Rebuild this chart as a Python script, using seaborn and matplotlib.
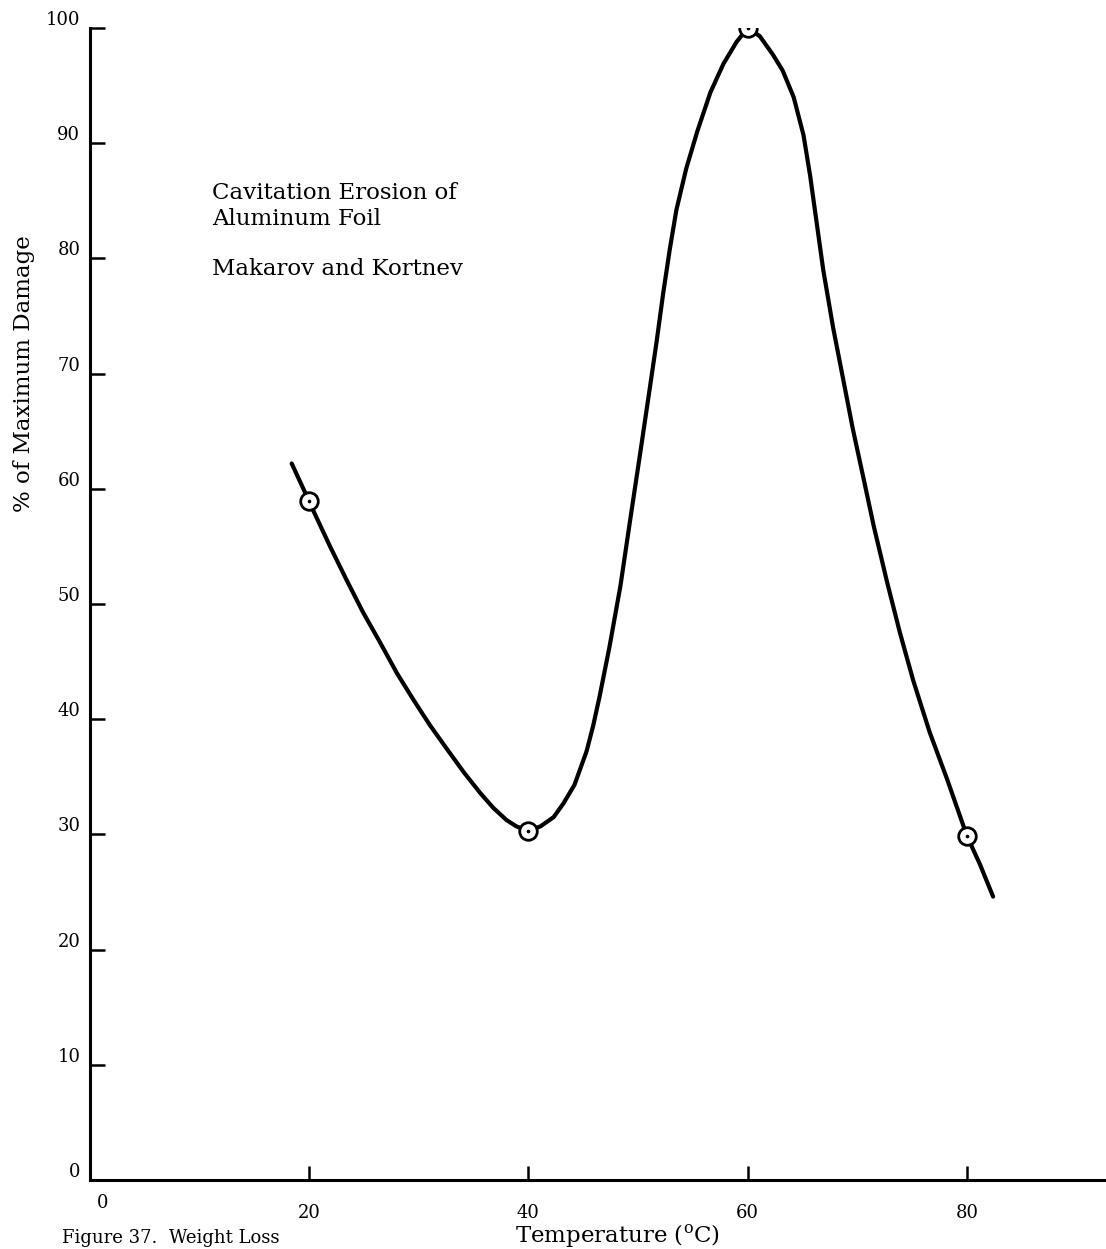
import matplotlib
matplotlib.use("Agg")
import matplotlib.pyplot as plt
import matplotlib.transforms as mtransforms
import seaborn as sns
import pandas as pd

# curve
curve_temp = [18.4, 20.0, 20.4, 21.9, 23.4, 24.9, 26.5, 28.0, 29.5, 31.0, 32.5,
              34.1, 35.6, 36.8, 38.0, 38.9, 40.0, 41.1, 42.3, 43.2, 44.2, 45.3,
              45.9, 46.5, 47.4, 48.4, 49.3, 50.2, 51.1, 51.7, 52.3, 52.9, 53.5,
              54.4, 55.4, 56.6, 57.8, 59.0, 60.0, 61.1, 62.3, 63.2, 64.2, 65.1,
              65.7, 66.3, 66.9, 67.8, 68.7, 69.6, 70.6, 71.5, 72.7, 73.9, 75.1,
              76.6, 78.2, 80.0, 81.2, 82.4]
curve_damage = [62.2, 58.9, 58.05, 55.0, 52.1, 49.3, 46.6, 44.0, 41.7, 39.5, 37.5,
                35.4, 33.6, 32.3, 31.25, 30.7, 30.3, 30.7, 31.5, 32.7, 34.3, 37.2,
                39.4, 42.0, 46.3, 51.6, 57.4, 63.1, 68.9, 72.8, 77.0, 80.8, 84.2,
                87.8, 91.0, 94.4, 96.9, 98.8, 100.0, 99.3, 97.7, 96.3, 94.0, 90.7,
                87.2, 83.1, 79.0, 74.0, 69.6, 65.2, 60.8, 56.8, 52.0, 47.5, 43.4,
                38.9, 34.8, 29.9, 27.4, 24.6]

# measured points
point_temp = [20, 40, 60, 80]
point_damage = [58.9, 30.3, 100.0, 29.9]

x_ticks = [0, 20, 40, 60, 80]
y_ticks = [0, 10, 20, 30, 40, 50, 60, 70, 80, 90, 100]

curve = pd.DataFrame({"temp": curve_temp, "damage": curve_damage})
points = pd.DataFrame({"temp": point_temp, "damage": point_damage})

sns.set_style("ticks", rc={
    "axes.edgecolor": "black",
    "axes.labelcolor": "black",
    "text.color": "black",
    "xtick.color": "black",
    "ytick.color": "black",
})
plt.rcParams["font.family"] = ["DejaVu Serif"]
plt.rcParams["mathtext.fontset"] = "dejavuserif"

fig = plt.figure(figsize=(11.06, 12.49), dpi=100)
ax = fig.add_axes([0.0814, 0.0552, 0.9186, 0.9224])

sns.lineplot(data=curve, x="temp", y="damage", sort=False, color="black",
             linewidth=3, ax=ax)
sns.scatterplot(data=points, x="temp", y="damage", s=160, facecolor="white",
                edgecolor="black", linewidth=2, zorder=3, ax=ax)
sns.scatterplot(data=points, x="temp", y="damage", s=7, color="black",
                linewidth=0, zorder=4, ax=ax)

ax.set_xlim(0, 92.7)
ax.set_ylim(0, 100)
ax.set_xticks(x_ticks)
ax.set_yticks(y_ticks)
ax.set_xticklabels([str(t) for t in x_ticks])
ax.set_yticklabels([str(t) for t in y_ticks])

sns.despine(ax=ax)
for s in ["left", "bottom"]:
    ax.spines[s].set_linewidth(2.2)
ax.tick_params(axis="y", direction="in", length=11, width=1.8, labelsize=13,
               pad=7)
ax.tick_params(axis="x", direction="in", length=10, width=1.8, labelsize=13,
               pad=17)
ax.xaxis.get_major_ticks()[0].tick1line.set_visible(False)

# labels sit a bit above their ticks in the original
up = mtransforms.ScaledTranslation(0, 10 / 100, fig.dpi_scale_trans)
for lab in ax.get_yticklabels():
    lab.set_transform(lab.get_transform() + up)
xlabs = ax.get_xticklabels()
xlabs[0].set_transform(xlabs[0].get_transform() +
                       mtransforms.ScaledTranslation(13 / 100, 0.1, fig.dpi_scale_trans))

ax.set_xlabel(r"Temperature ($^{\mathrm{o}}$C)", fontsize=16.5)
ax.set_ylabel("% of Maximum Damage", fontsize=16.5)
ax.xaxis.set_label_coords(0.519, -0.036)
ax.yaxis.set_label_coords(-0.054, 0.70)

ax.text(0.120, 0.866, "Cavitation Erosion of\nAluminum Foil", transform=ax.transAxes,
        fontsize=16.5, va="top", ha="left", linespacing=1.2)
ax.text(0.120, 0.800, "Makarov and Kortnev", transform=ax.transAxes,
        fontsize=16.5, va="top", ha="left")

fig.text(62 / 1106, 2 / 1249, "Figure 37.  Weight Loss", fontsize=13,
         va="bottom", ha="left")

fig.savefig("out.png", dpi=100, facecolor="white")
